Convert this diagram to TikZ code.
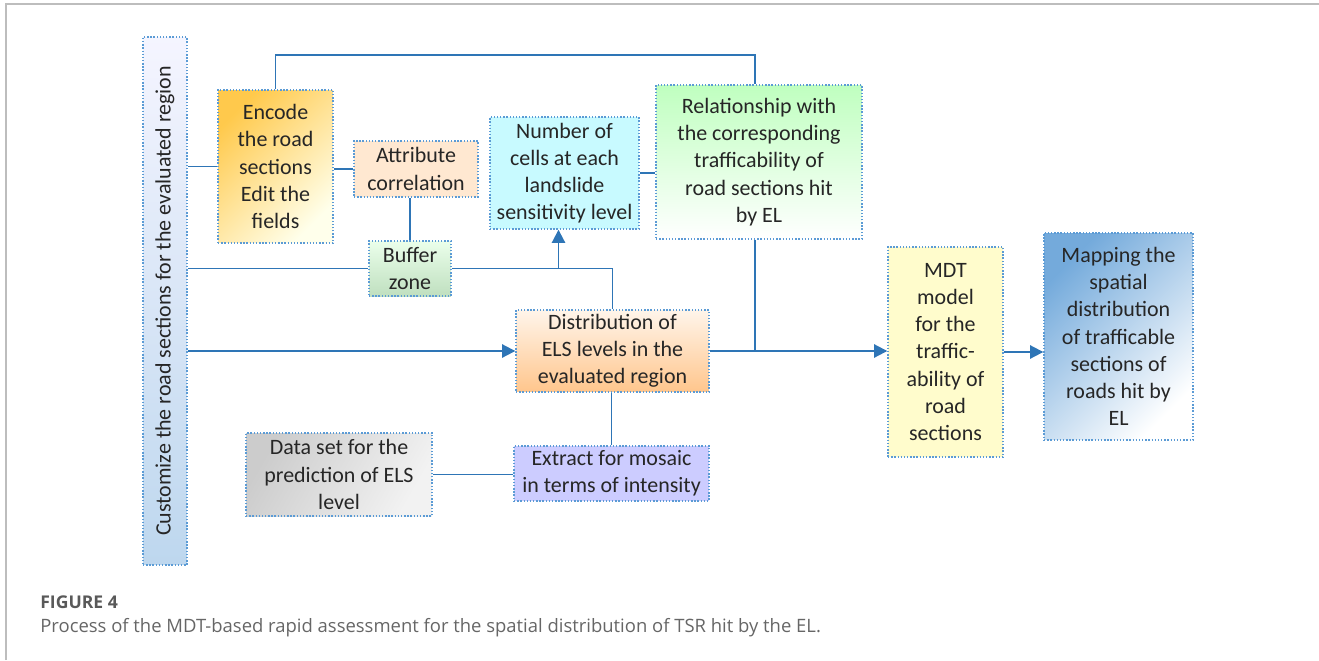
\documentclass[tikz,border=0pt]{standalone}
\usepackage{graphicx}
\usepackage{fontspec}
\setmainfont{Carlito}
\newfontfamily\capfont{Open Sans}
\usepackage{xcolor}
\usepackage{tikz}
\usetikzlibrary{arrows.meta,positioning,calc}

\definecolor{flowblue}{HTML}{2E75B6}
\definecolor{edgeblue}{HTML}{5B9BD5}
\definecolor{framegray}{HTML}{BDBDBD}
\definecolor{cellcyan}{HTML}{C8FAFF}

\begin{document}
\begin{tikzpicture}[x=0.02cm, y=-0.02cm,
    font=\fontsize{12.5}{15.5}\selectfont,
    stepbox/.style={draw=edgeblue, densely dotted, line width=0.8pt, align=center,
        inner sep=2pt, text=black!85},
    conn/.style={draw=flowblue, line width=1.1pt},
    flow/.style={conn, -{Triangle[length=7.5pt,width=7.5pt]}}]

    % Page size and frame
    \useasboundingbox (0,0) rectangle (1319,660);
    \draw[framegray, line width=0.8pt] (6,660) -- (6,4) -- (1319,4);

    % Left column
    \node[stepbox, top color=blue!4, bottom color=edgeblue!40,
          minimum width=0.88cm, minimum height=10.56cm] (cust) at (165,301)
        {\rotatebox{90}{Customize the road sections for the evaluated region}};

    % Boxes
    \node[stepbox, left color=orange!60!yellow!70, right color=yellow!8, shading angle=45,
          minimum width=2.3cm, minimum height=3.06cm] (enc) at (275.5,166.5)
        {Encode\\the road\\sections\\Edit the\\fields};
    \node[stepbox, fill=orange!18, minimum width=2.48cm, minimum height=1.12cm] (attr) at (416,169)
        {Attribute\\correlation};
    \node[stepbox, top color=green!8, bottom color=green!50!black!25,
          minimum width=1.64cm, minimum height=1.1cm] (buf) at (410,268.5)
        {Buffer\\zone};
    \node[stepbox, fill=cellcyan, minimum width=2.98cm, minimum height=2.24cm] (num) at (564.5,173)
        {Number of\\cells at each\\landslide\\sensitivity level};
    \node[stepbox, top color=green!25, bottom color=white,
          minimum width=4.12cm, minimum height=3.08cm] (rel) at (759,162)
        {Relationship with\\the corresponding\\trafficability of\\road sections hit\\by EL};
    \node[stepbox, top color=orange!8, bottom color=orange!45,
          minimum width=3.86cm, minimum height=1.64cm] (dist) at (612.5,351)
        {Distribution of\\ELS levels in the\\evaluated region};
    \node[stepbox, fill=blue!20, minimum width=3.9cm, minimum height=1.1cm] (extr) at (611.5,473.5)
        {Extract for mosaic\\in terms of intensity};
    \node[stepbox, left color=black!20, right color=black!5, shading angle=60,
          minimum width=3.72cm, minimum height=1.66cm] (data) at (339,474.5)
        {Data set for the\\prediction of ELS\\level};
    \node[stepbox, fill=yellow!20, minimum width=2.3cm, minimum height=4.2cm] (mdt) at (945.5,352)
        {MDT\\model\\for the\\traffic-\\ability of\\road\\sections};
    \node[stepbox, left color=edgeblue!85, right color=white, shading angle=45,
          minimum width=2.98cm, minimum height=4.14cm] (map) at (1118.5,336.5)
        {Mapping the\\spatial\\distribution\\of trafficable\\sections of\\roads hit by\\EL};

    % Connectors
    \coordinate (topline) at (0,55);
    \draw[conn] (enc.north) -- (enc.north |- topline) -| ([xshift=-0.08cm]rel.north);
    \draw[conn] (cust.east |- enc.west) -- (enc.west);
    \draw[conn] (enc.east |- attr.west) -- (attr.west);
    \draw[conn] (buf.north |- attr.south) -- (buf.north);
    \draw[conn] (cust.east |- buf.west) -- (buf.west);
    \draw[conn] (buf.east) -| (dist.north);
    \coordinate (split) at ([xshift=-0.12cm]num.south |- buf.east);
    \draw[flow] (split) -- ([xshift=-0.12cm]num.south);
    \draw[conn] (num.east) -- (num.east -| rel.west);
    \draw[flow] (cust.east |- dist.west) -- (dist.west);
    \draw[flow] (dist.east) -- (dist.east -| mdt.west);
    \draw[conn] ([xshift=-0.08cm]rel.south) -- ([xshift=-0.08cm]rel.south |- dist.east);
    \draw[flow] (mdt.east) -- (mdt.east -| map.west);
    \draw[conn] (extr.north |- dist.south) -- (extr.north);
    \draw[conn] (data.east) -- (data.east -| extr.west);

    % Caption
    \node[anchor=west, inner sep=0pt, text=black!65, font=\capfont\bfseries\fontsize{10}{12}\selectfont] (fig) at (40,602) {FIGURE 4};
    \node[anchor=west, inner sep=0pt, text=black!60, font=\capfont\fontsize{10.5}{12}\selectfont] (cap) at (40,628)
        {Process of the MDT-based rapid assessment for the spatial distribution of TSR hit by the EL.};
\end{tikzpicture}
\end{document}
